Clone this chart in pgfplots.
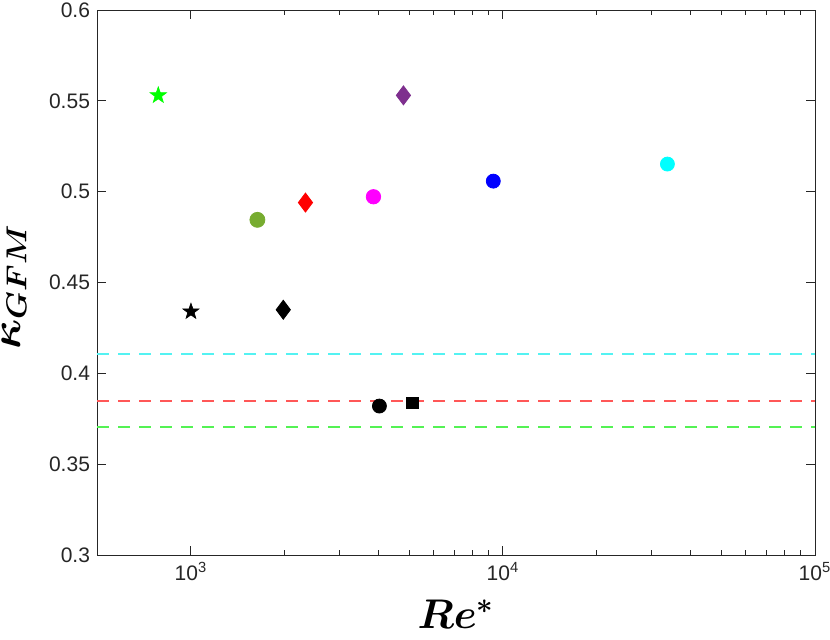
\documentclass[border=0pt]{standalone}
\usepackage{fontspec}
\setmainfont{Liberation Sans}
\usepackage{amsmath}
\usepackage{bm}
\usepackage{graphicx}
\usepackage{pgfplots}
\pgfplotsset{compat=1.18}
\definecolor{mgray}{rgb}{0.15,0.15,0.15}
\definecolor{molive}{rgb}{0.466,0.674,0.188}
\definecolor{mpurple}{rgb}{0.494,0.184,0.556}
\definecolor{mmag}{rgb}{1,0,1}
\definecolor{mcyan}{rgb}{0,1,1}
\definecolor{mgreen}{rgb}{0,1,0}
\definecolor{lcyan}{rgb}{0.33,0.95,0.95}
\definecolor{lred}{rgb}{1,0.34,0.34}
\definecolor{lgreen}{rgb}{0.33,0.95,0.33}
\pgfdeclareplotmark{fstar}{%
  \pgfpathmoveto{\pgfpointpolar{90}{\pgfplotmarksize}}%
  \pgfpathlineto{\pgfpointpolar{126}{0.40\pgfplotmarksize}}%
  \pgfpathlineto{\pgfpointpolar{162}{\pgfplotmarksize}}%
  \pgfpathlineto{\pgfpointpolar{198}{0.40\pgfplotmarksize}}%
  \pgfpathlineto{\pgfpointpolar{234}{\pgfplotmarksize}}%
  \pgfpathlineto{\pgfpointpolar{270}{0.40\pgfplotmarksize}}%
  \pgfpathlineto{\pgfpointpolar{306}{\pgfplotmarksize}}%
  \pgfpathlineto{\pgfpointpolar{342}{0.40\pgfplotmarksize}}%
  \pgfpathlineto{\pgfpointpolar{18}{\pgfplotmarksize}}%
  \pgfpathlineto{\pgfpointpolar{54}{0.40\pgfplotmarksize}}%
  \pgfpathclose
  \pgfusepathqfillstroke
}
\begin{document}
\begin{tikzpicture}
\begin{axis}[
  scale only axis,
  width=359pt, height=272.5pt,
  xmode=log,
  xmin=500, xmax=100000,
  ymin=0.3, ymax=0.6,
  xtick={1000,10000,100000},
  xticklabels={10\textsuperscript{3},10\textsuperscript{4},10\textsuperscript{5}},
  ytick={0.3,0.35,0.4,0.45,0.5,0.55,0.6},
  yticklabels={0.3,0.35,0.4,0.45,0.5,0.55,0.6},
  tick align=inside,
  major tick length=4.5pt,
  minor tick length=2.5pt,
  axis line style={mgray, line width=0.5pt},
  every tick/.style={mgray, line width=0.5pt},
  tick label style={font=\fontsize{10.5}{12}\selectfont, text=mgray},
  xlabel={$\bm{Re^{*}}$},
  ylabel={\scalebox{1.09}[1]{$\bm{\kappa_{GFM}}$}},
  xlabel style={font=\fontsize{21}{24}\selectfont, at={(axis description cs:0.5,-0.108)}, anchor=center},
  ylabel style={font=\fontsize{21}{24}\selectfont, inner sep=0pt, at={(axis description cs:-0.1072,0.492)}, anchor=base},
  clip=false,
]
% dashed reference lines
\addplot[lcyan, line width=1pt, dash pattern=on 6pt off 4.5pt] coordinates {(500,0.4105) (100000,0.4105)};
\addplot[lred, line width=1pt, dash pattern=on 6pt off 4.5pt] coordinates {(500,0.3846) (100000,0.3846)};
\addplot[lgreen, line width=1pt, dash pattern=on 6pt off 4.5pt] coordinates {(500,0.3703) (100000,0.3703)};
% markers
\addplot[only marks, mark=fstar, mark size=4.3pt, color=mgreen, mark options={solid, fill=mgreen, line width=0.3pt}] coordinates {(786,0.553)};
\addplot[only marks, mark=fstar, mark size=4.2pt, color=black, mark options={solid, fill=black, line width=0.3pt}] coordinates {(1000,0.434)};
\addplot[only marks, mark=*, mark size=3.75pt, color=molive, mark options={fill=molive}] coordinates {(1633,0.4845)};
\addplot[only marks, mark=diamond*, mark size=4.75pt, color=black, mark options={fill=black}] coordinates {(1977,0.435)};
\addplot[only marks, mark=diamond*, mark size=4.75pt, color=red, mark options={fill=red}] coordinates {(2328,0.494)};
\addplot[only marks, mark=*, mark size=3.6pt, color=mmag, mark options={fill=mmag}] coordinates {(3846,0.4972)};
\addplot[only marks, mark=diamond*, mark size=4.75pt, color=mpurple, mark options={fill=mpurple}] coordinates {(4797,0.553)};
\addplot[only marks, mark=*, mark size=3.5pt, color=black, mark options={fill=black}] coordinates {(4018,0.382)};
\addplot[only marks, mark=square*, mark size=2.9pt, color=black, mark options={fill=black}] coordinates {(5130,0.3838)};
\addplot[only marks, mark=*, mark size=3.5pt, color=blue, mark options={fill=blue}] coordinates {(9311,0.5058)};
\addplot[only marks, mark=*, mark size=3.5pt, color=mcyan, mark options={fill=mcyan}] coordinates {(33650,0.5152)};
\end{axis}
\pgfresetboundingbox
\path (-48.5pt,-42pt) rectangle (366.5pt,277.5pt);
\end{tikzpicture}
\end{document}
